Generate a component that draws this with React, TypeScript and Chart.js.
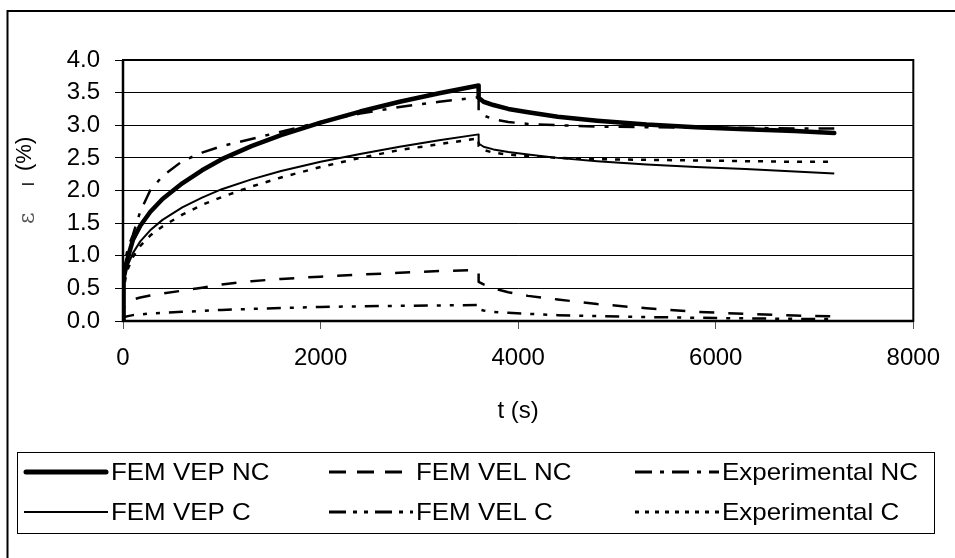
import React, { useEffect, useRef } from "react";
import { Chart, registerables } from "chart.js";

Chart.register(...registerables);

// ---- data ----
const timeS = [0, 2, 10, 25, 50, 100, 175, 275, 400, 600, 800, 1000, 1300, 1600, 2000, 2400, 2800, 3200, 3600, 3600, 3650, 3750, 3900, 4100, 4400, 4800, 5300, 5800, 6300, 6800, 7200];
const femVepNc = [0, 0.45, 0.68, 0.84, 0.98, 1.24, 1.46, 1.67, 1.87, 2.11, 2.31, 2.48, 2.68, 2.85, 3.04, 3.21, 3.36, 3.49, 3.61, 3.42, 3.36, 3.31, 3.25, 3.2, 3.13, 3.07, 3.01, 2.97, 2.94, 2.91, 2.88];
const femVelNc = [0, 0.12, 0.2, 0.26, 0.29, 0.33, 0.36, 0.39, 0.42, 0.465, 0.51, 0.56, 0.61, 0.645, 0.68, 0.71, 0.74, 0.765, 0.78, 0.6, 0.56, 0.5, 0.44, 0.385, 0.33, 0.26, 0.195, 0.14, 0.11, 0.083, 0.07];
const expNc = [0, 0.4, 0.7, 0.95, 1.12, 1.32, 1.68, 2.0, 2.22, 2.45, 2.58, 2.68, 2.79, 2.9, 3.05, 3.18, 3.28, 3.36, 3.43, 3.2, 3.15, 3.09, 3.05, 3.02, 3.0, 2.98, 2.97, 2.96, 2.96, 2.95, 2.95];
const femVepC = [0, 0.35, 0.55, 0.7, 0.86, 1.04, 1.22, 1.39, 1.55, 1.74, 1.89, 2.02, 2.17, 2.3, 2.44, 2.56, 2.67, 2.77, 2.86, 2.72, 2.67, 2.63, 2.59, 2.55, 2.5, 2.45, 2.4, 2.36, 2.33, 2.29, 2.26];
const femVelC = [0, 0.03, 0.05, 0.065, 0.075, 0.09, 0.1, 0.115, 0.125, 0.14, 0.155, 0.17, 0.185, 0.2, 0.215, 0.225, 0.232, 0.238, 0.245, 0.18, 0.16, 0.14, 0.125, 0.11, 0.09, 0.075, 0.06, 0.05, 0.04, 0.033, 0.03];
const expC = [0, 0.3, 0.5, 0.65, 0.8, 0.98, 1.15, 1.31, 1.45, 1.63, 1.78, 1.9, 2.06, 2.2, 2.36, 2.5, 2.62, 2.71, 2.8, 2.68, 2.62, 2.58, 2.55, 2.53, 2.5, 2.48, 2.47, 2.46, 2.45, 2.44, 2.44];

const seriesLabels = ["FEM VEP NC", "FEM VEL NC", "Experimental NC", "FEM VEP C", "FEM VEL C", "Experimental C"];
const xMin = 0, xMax = 8000, xStep = 2000;
const yMin = 0, yMax = 4, yStep = 0.5;
const xTitle = "t (s)";

const FONT = "'Liberation Sans', Arial, sans-serif";

const styles = [
  { width: 4.5, dash: [] as number[], cap: "round" },
  { width: 2.5, dash: [15, 14], cap: "butt" },
  { width: 2.5, dash: [16, 10, 4, 10], cap: "butt" },
  { width: 2, dash: [] as number[], cap: "butt" },
  { width: 2.5, dash: [14, 9, 4, 9, 4, 9], cap: "butt" },
  { width: 2.5, dash: [5, 8], cap: "butt" },
];

const legendDash = [[], [17, 11], [17, 8, 4, 8], [], [17, 7, 4, 7, 4, 7], [4, 6]];

const decor = {
  id: "decor",
  beforeDraw(chart: any) {
    const { ctx, width, height } = chart;
    ctx.save();
    ctx.fillStyle = "#fff";
    ctx.fillRect(0, 0, width, height);
    ctx.restore();
  },
  afterDraw(chart: any) {
    const { ctx, chartArea } = chart;
    const { left, right, top, bottom } = chartArea;
    ctx.save();
    // outer frame (left & top visible)
    ctx.strokeStyle = "#000";
    ctx.lineWidth = 2;
    ctx.setLineDash([]);
    ctx.beginPath();
    ctx.moveTo(7.5, 558);
    ctx.lineTo(7.5, 11);
    ctx.lineTo(955, 11);
    ctx.stroke();

    // plot border
    ctx.lineWidth = 2;
    ctx.strokeRect(left, top, right - left, bottom - top);
    ctx.lineWidth = 2.5;
    ctx.beginPath();
    ctx.moveTo(left, top);
    ctx.lineTo(left, bottom);
    ctx.lineTo(right, bottom);
    ctx.stroke();

    // x title
    ctx.fillStyle = "#000";
    ctx.font = `24px ${FONT}`;
    ctx.textAlign = "center";
    ctx.textBaseline = "alphabetic";
    ctx.fillText(xTitle, (left + right) / 2, 418);

    // y title (rotated)
    ctx.save();
    ctx.rotate(-Math.PI / 2);
    ctx.textAlign = "left";
    ctx.fillStyle = "#555";
    ctx.font = `22px 'DejaVu Serif', serif`;
    ctx.fillText("ε", -224, 34);
    ctx.fillStyle = "#000";
    ctx.font = `17px ${FONT}`;
    ctx.fillText("l", -186, 34);
    ctx.font = `22px ${FONT}`;
    ctx.fillText("(%)", -171, 31);
    ctx.restore();

    // legend box
    ctx.lineWidth = 1;
    ctx.strokeStyle = "#000";
    ctx.strokeRect(17.5, 452.5, 917, 81);
    const colX = [24, 329, 635];
    const rowY = [472, 512];
    const lineLen = 84;
    chart.data.datasets.forEach((ds: any, i: number) => {
      const col = i % 3;
      const row = Math.floor(i / 3);
      const x0 = colX[col];
      const y = rowY[row];
      ctx.save();
      ctx.strokeStyle = "#000";
      ctx.lineWidth = i === 0 ? 5 : i === 3 ? 2 : 2.8;
      ctx.lineCap = i === 0 ? "round" : "butt";
      ctx.setLineDash(legendDash[i]);
      ctx.beginPath();
      ctx.moveTo(x0 + (i === 0 ? 2 : 0), y);
      ctx.lineTo(x0 + lineLen - (i === 0 ? 2 : 0), y);
      ctx.stroke();
      ctx.setLineDash([]);
      ctx.fillStyle = "#000";
      ctx.font = `24px ${FONT}`;
      ctx.textAlign = "left";
      ctx.textBaseline = "middle";
      ctx.translate(x0 + lineLen + 3, y + 1);
      ctx.scale(1.08, 1);
      ctx.fillText(ds.label, 0, 0);
      ctx.restore();
    });
    ctx.restore();
  },
};

const seriesValues = [femVepNc, femVelNc, expNc, femVepC, femVelC, expC];

export default function App() {
  const ref = useRef<HTMLCanvasElement | null>(null);
  useEffect(() => {
    if (!ref.current) return;
    const datasets = seriesValues.map((vals, i) => ({
      label: seriesLabels[i],
      data: timeS.map((t, k) => ({ x: t, y: vals[k] })),
      borderColor: "#000",
      backgroundColor: "#000",
      borderWidth: styles[i].width,
      borderDash: styles[i].dash,
      borderCapStyle: styles[i].cap as any,
      borderJoinStyle: "round" as any,
      pointRadius: 0,
      tension: 0,
      fill: false,
    }));
    const chart = new Chart(ref.current, {
      type: "line",
      data: { datasets },
      options: {
        animation: false,
        responsive: false,
        devicePixelRatio: 1,
        layout: { padding: { left: 0, top: 60, right: 35, bottom: 0 } },
        plugins: { legend: { display: false }, tooltip: { enabled: false } },
        scales: {
          x: {
            type: "linear",
            min: xMin,
            max: xMax,
            afterFit: (s: any) => { s.height = 237; },
            ticks: {
              stepSize: xStep,
              color: "#000",
              font: { family: FONT, size: 24 },
              padding: 15,
              maxRotation: 0,
              callback: (v: any) => String(v),
            },
            grid: { drawOnChartArea: false, drawTicks: true, tickLength: 8, color: "#555", lineWidth: 1 },
            border: { display: false },
          },
          y: {
            min: yMin,
            max: yMax,
            afterFit: (s: any) => { s.width = 123; },
            ticks: {
              stepSize: yStep,
              color: "#000",
              font: { family: FONT, size: 24 },
              padding: 15,
              callback: (v: any) => Number(v).toFixed(1),
            },
            grid: { drawOnChartArea: true, drawTicks: true, tickLength: 8, color: "#000", lineWidth: 1 },
            border: { display: false },
          },
        },
      },
      plugins: [decor],
    });
    return () => chart.destroy();
  }, []);
  return (
    <div style={{ position: "absolute", left: 0, top: 0, width: 955, height: 558 }}>
      <canvas ref={ref} width={955} height={558} style={{ width: 955, height: 558, display: "block" }} />
    </div>
  );
}
